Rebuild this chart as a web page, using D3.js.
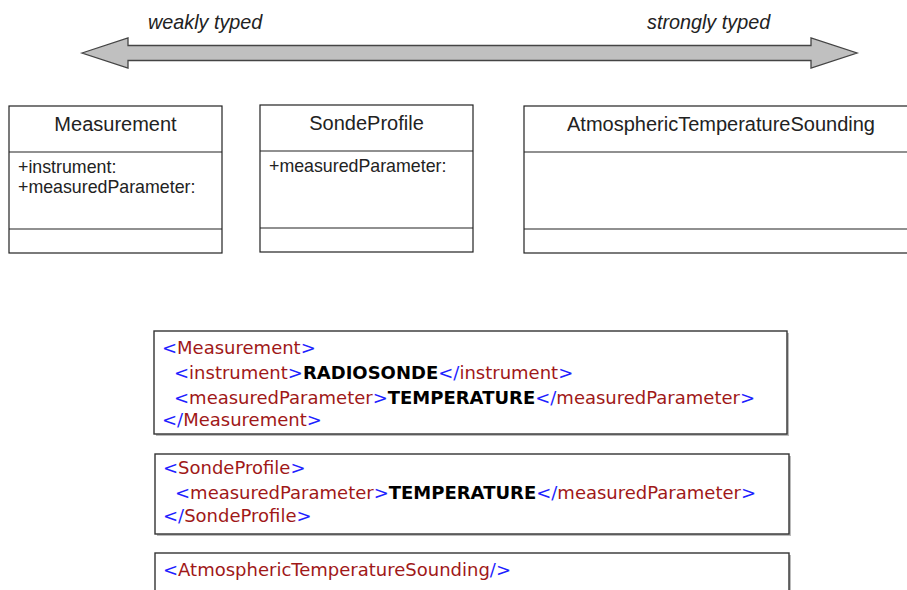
<!DOCTYPE html>
<html lang="en">
<head>
<meta charset="utf-8">
<title>Weakly vs strongly typed</title>
<script src="https://d3js.org/d3.v7.min.js"></script>
<style>
  body { margin: 0; background: #fff; }
  svg { display: block; }
  .uml text { font-family: Arial, "Liberation Sans", sans-serif; fill: #222; }
  .xml text { font-family: "DejaVu Sans", Verdana, sans-serif; font-size: 18px; }
</style>
</head>
<body>
<script>
// data
var scaleLabels = ["weakly typed", "strongly typed"];
var classNames = ["Measurement", "SondeProfile", "AtmosphericTemperatureSounding"];
var classAttrs = [["+instrument:", "+measuredParameter:"], ["+measuredParameter:"], []];
var xmlBlocks = [
  ["<Measurement>",
   " <instrument>RADIOSONDE</instrument>",
   " <measuredParameter>TEMPERATURE</measuredParameter>",
   "</Measurement>"],
  ["<SondeProfile>",
   " <measuredParameter>TEMPERATURE</measuredParameter>",
   "</SondeProfile>"],
  ["<AtmosphericTemperatureSounding/>"]
];

var width = 907, height = 590;
var svg = d3.select("body").append("svg")
  .attr("width", width).attr("height", height);

// double arrow across the top
var ax = d3.scaleLinear().domain([0, 1]).range([82, 857]);
var ay = 53;
var head = 46, shaftH = 7.5, headH = 15;
var arrowPts = [
  [ax(0), ay], [ax(0) + head, ay - headH], [ax(0) + head, ay - shaftH],
  [ax(1) - head, ay - shaftH], [ax(1) - head, ay - headH], [ax(1), ay],
  [ax(1) - head, ay + headH], [ax(1) - head, ay + shaftH],
  [ax(0) + head, ay + shaftH], [ax(0) + head, ay + headH]
];
svg.append("path")
  .attr("d", d3.line()(arrowPts) + "Z")
  .attr("fill", "#c0c0c0").attr("stroke", "#444").attr("stroke-width", 1.3);

svg.selectAll("text.scale").data(scaleLabels).enter().append("text")
  .attr("class", "scale")
  .attr("x", function(d, i) { return i == 0 ? 148 : 647; })
  .attr("y", 29)
  .attr("font-family", "Arial, 'Liberation Sans', sans-serif")
  .attr("font-style", "italic").attr("font-size", 19.8).attr("fill", "#222")
  .text(function(d) { return d; });

// UML class boxes
var boxX = [9, 260, 524], boxW = [213, 213, 400];
var umlTop = 106, hdr = 46, mid = 77, low = 24;
var uml = svg.selectAll("g.uml").data(classNames).enter().append("g")
  .attr("class", "uml")
  .attr("transform", function(d, i) { return "translate(" + boxX[i] + "," + (i == 1 ? umlTop - 1 : umlTop) + ")"; });
uml.append("rect")
  .attr("width", function(d, i) { return boxW[i]; }).attr("height", hdr + mid + low)
  .attr("fill", "#fff").attr("stroke", "#222").attr("stroke-width", 1.2);
uml.append("line").attr("x1", 0).attr("x2", function(d, i) { return boxW[i]; })
  .attr("y1", hdr).attr("y2", hdr).attr("stroke", "#222").attr("stroke-width", 1.2);
uml.append("line").attr("x1", 0).attr("x2", function(d, i) { return boxW[i]; })
  .attr("y1", hdr + mid).attr("y2", hdr + mid).attr("stroke", "#222").attr("stroke-width", 1.2);
uml.append("text")
  .attr("x", function(d, i) { return i == 2 ? 197 : boxW[i] / 2; })
  .attr("y", 25).attr("text-anchor", "middle").attr("font-size", 20)
  .text(function(d) { return d; });
uml.selectAll("text.attr").data(function(d, i) { return classAttrs[i]; })
  .enter().append("text").attr("class", "attr")
  .attr("x", 9).attr("y", function(d, j) { return hdr + 21 + j * 20; })
  .attr("font-size", 17.8)
  .text(function(d) { return d; });

// XML snippet boxes
var blockTop = [331, 454, 553], blockH = [103, 80, 60];
var lineY = [[23, 48, 73, 95], [20, 45, 68], [23]];
var blue = "#1f1fff", red = "#a01818";

function tokens(s) {
  var out = [], re = /(<\/?|\/?>)|([^<>\/]+)/g, m, inTag = false;
  while ((m = re.exec(s)) !== null) {
    if (m[1]) {
      out.push({ t: m[1], c: "p" });
      inTag = m[1].indexOf("<") >= 0;
    } else {
      out.push({ t: m[2], c: inTag ? "n" : "v" });
    }
  }
  return out;
}

var xml = svg.selectAll("g.xml").data(xmlBlocks).enter().append("g")
  .attr("class", "xml")
  .attr("transform", function(d, i) { return "translate(" + (i == 0 ? 154 : 155) + "," + blockTop[i] + ")"; });
xml.append("rect")
  .attr("x", 2).attr("y", 2)
  .attr("width", function(d, i) { return i == 0 ? 633 : 634; })
  .attr("height", function(d, i) { return blockH[i]; })
  .attr("fill", "#bbb");
xml.append("rect")
  .attr("width", function(d, i) { return i == 0 ? 633 : 634; })
  .attr("height", function(d, i) { return blockH[i]; })
  .attr("fill", "#fff").attr("stroke", "#333").attr("stroke-width", 1.4);
xml.each(function(lines, i) {
  var g = d3.select(this);
  lines.forEach(function(line, j) {
    var indent = line.charAt(0) == " " ? 20 : 8;
    var t = g.append("text").attr("x", indent).attr("y", lineY[i][j]);
    t.selectAll("tspan").data(tokens(line.trim())).enter().append("tspan")
      .attr("fill", function(d) { return d.c == "p" ? blue : d.c == "n" ? red : "#000"; })
      .attr("font-weight", function(d) { return d.c == "v" ? "bold" : null; })
      .text(function(d) { return d.t; });
  });
});
</script>
</body>
</html>
